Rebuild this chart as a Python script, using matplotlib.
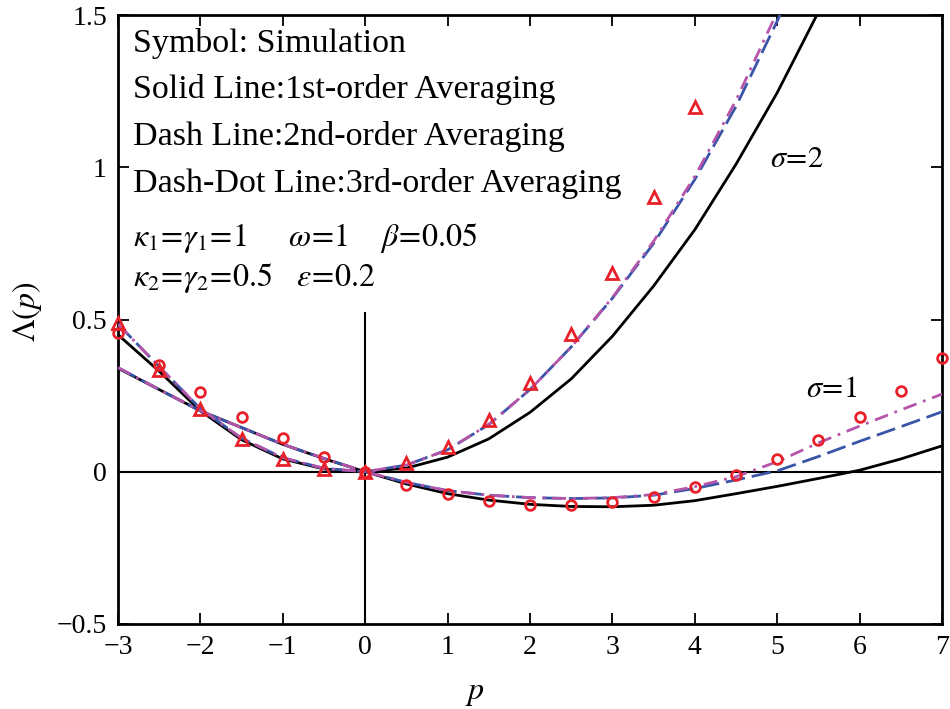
import numpy as np
import matplotlib
matplotlib.use('Agg')
import matplotlib.pyplot as plt

plt.rcParams['font.family'] = ['Liberation Serif', 'DejaVu Serif']
plt.rcParams['mathtext.fontset'] = 'stix'
plt.rcParams['axes.unicode_minus'] = True

# p grid for the curves and the simulation points
p_curve = [-3, -2.5, -2, -1.5, -1, -0.5, 0, 0.5, 1, 1.5, 2, 2.5, 3, 3.5, 4,
           4.5, 5, 5.5, 6, 6.5, 7]

# sigma = 2
s2_first = [0.45, 0.33, 0.20, 0.105, 0.042, 0.009, 0, 0.012, 0.048, 0.108, 0.195,
            0.305, 0.445, 0.61, 0.795, 1.01, 1.245, 1.51, 1.80, 2.10, 2.45]
s2_second = [0.485, 0.345, 0.207, 0.11, 0.046, 0.011, 0, 0.022, 0.072, 0.155, 0.27,
             0.41, 0.57, 0.75, 0.96, 1.20, 1.48, 1.79, 2.10, 2.40, 2.80]
s2_third = [0.485, 0.345, 0.207, 0.11, 0.046, 0.011, 0, 0.022, 0.072, 0.156, 0.27,
            0.41, 0.572, 0.757, 0.97, 1.22, 1.51, 1.82, 2.15, 2.45, 2.85]

# sigma = 1
s1_first = [0.34, 0.27, 0.20, 0.145, 0.09, 0.043, 0, -0.04, -0.072, -0.093, -0.107,
            -0.114, -0.115, -0.11, -0.095, -0.072, -0.048, -0.022, 0.005, 0.042, 0.085]
s1_second = [0.342, 0.27, 0.20, 0.145, 0.09, 0.044, 0, -0.035, -0.062, -0.077, -0.085,
             -0.088, -0.086, -0.077, -0.055, -0.027, 0.003, 0.05, 0.10, 0.148, 0.197]
s1_third = [0.342, 0.27, 0.20, 0.145, 0.09, 0.044, 0, -0.035, -0.062, -0.077, -0.085,
            -0.088, -0.085, -0.075, -0.049, -0.016, 0.033, 0.095, 0.15, 0.203, 0.255]

# simulation
tri_p = [-3, -2.5, -2, -1.5, -1, -0.5, 0, 0.5, 1, 1.5, 2, 2.5, 3, 3.5, 4]
tri_val = [0.489, 0.335, 0.207, 0.108, 0.043, 0.01, 0, 0.03, 0.082, 0.17, 0.293,
           0.453, 0.654, 0.903, 1.199]
circ_p = p_curve
circ_val = [0.456, 0.351, 0.263, 0.181, 0.112, 0.05, 0, -0.043, -0.072, -0.095, -0.108,
            -0.11, -0.1, -0.082, -0.05, -0.012, 0.042, 0.105, 0.18, 0.266, 0.375]

blue = '#3a55a8'
mag = '#b455aa'
red = '#e8202a'

fig = plt.figure(figsize=(9.5, 7.09), dpi=100)
ax = fig.add_axes([0.1242, 0.1199, 0.8674, 0.8589])

ax.axhline(0, color='black', lw=1.5, zorder=1)
ax.plot([0, 0], [-0.5, 0.52], color='black', lw=1.5, zorder=1)

for first, second, third in [(s2_first, s2_second, s2_third),
                             (s1_first, s1_second, s1_third)]:
    ax.plot(p_curve, first, color='black', lw=2.0, zorder=2)
    ax.plot(p_curve, second, color=blue, lw=2.0, dashes=(7, 2.5), zorder=3)
    ax.plot(p_curve, third, color=mag, lw=2.0, dashes=(5, 2.5, 1, 2.5), zorder=4)

ax.plot(tri_p, tri_val, ls='none', marker='^', ms=8, mfc='none', mec=red, mew=2, zorder=5,
        clip_on=False)
ax.plot(circ_p, circ_val, ls='none', marker='o', ms=7, mfc='none', mec=red, mew=2, zorder=5,
        clip_on=False)

ax.set_xlim(-3, 7)
ax.set_ylim(-0.5, 1.5)
ax.set_xticks(range(-3, 8))
ax.set_yticks([-0.5, 0, 0.5, 1, 1.5])
ax.set_yticklabels(['\u22120.5', '0', '0.5', '1', '1.5'])
ax.tick_params(direction='in', length=8, width=1.3, labelsize=20, top=True, right=True,
               pad=8)
for sp in ax.spines.values():
    sp.set_linewidth(2)

ax.set_xlabel(r'$p$', fontsize=23)
ax.set_ylabel(r'$\Lambda(p)$', fontsize=23)
ax.xaxis.set_label_coords(0.433, -0.09)
ax.yaxis.set_label_coords(-0.090, 0.512)

fs = 24.5
ax.text(0.018, 0.954, 'Symbol: Simulation', transform=ax.transAxes, fontsize=fs, va='center')
ax.text(0.018, 0.878, 'Solid Line:1st-order Averaging', transform=ax.transAxes, fontsize=fs,
        va='center')
ax.text(0.018, 0.800, 'Dash Line:2nd-order Averaging', transform=ax.transAxes, fontsize=fs,
        va='center')
ax.text(0.018, 0.723, 'Dash-Dot Line:3rd-order Averaging', transform=ax.transAxes,
        fontsize=fs, va='center')
ax.text(0.018, 0.634, r'$\kappa_1\!=\!\gamma_1\!=\!1$     $\omega\!=\!1$    $\beta\!=\!0.05$',
        transform=ax.transAxes, fontsize=23, va='center')
ax.text(0.018, 0.568, r'$\kappa_2\!=\!\gamma_2\!=\!0.5$   $\varepsilon\!=\!0.2$',
        transform=ax.transAxes, fontsize=23, va='center')

ax.text(4.91, 1.025, r'$\sigma\!=\!2$', fontsize=22, va='center')
ax.text(5.35, 0.27, r'$\sigma\!=\!1$', fontsize=22, va='center')

fig.savefig('out.png', dpi=100)
